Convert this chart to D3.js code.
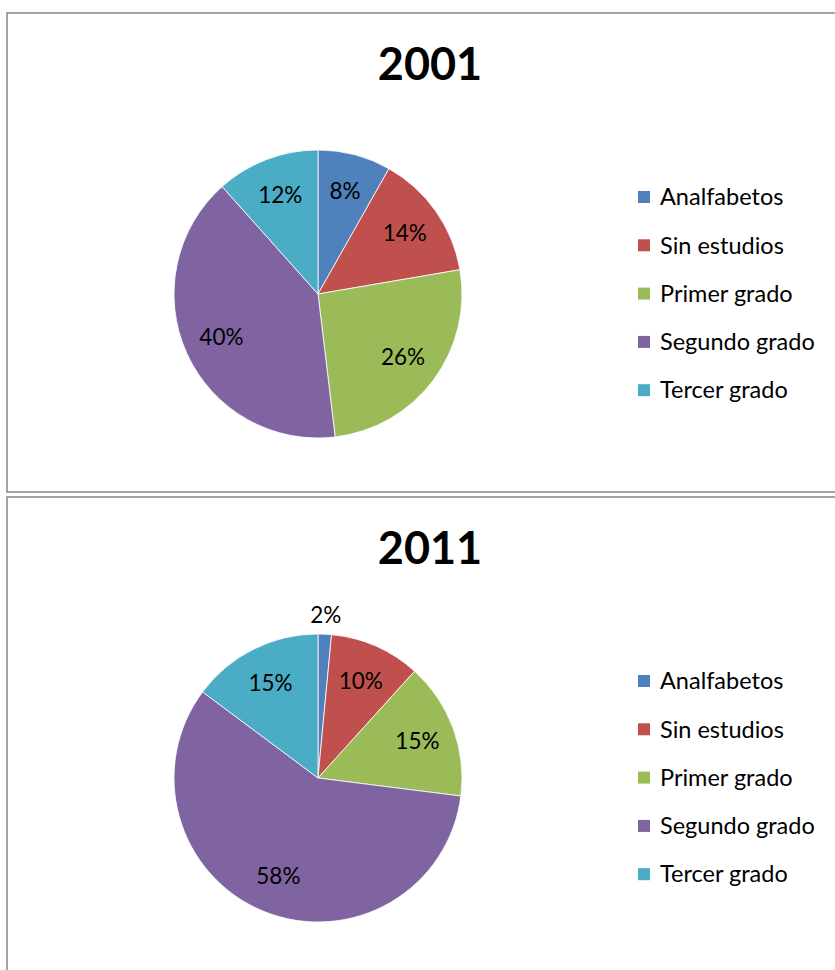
<!DOCTYPE html>
<html><head><meta charset="utf-8">
<script src="https://cdn.jsdelivr.net/npm/d3@7"></script>
<style>body{margin:0;background:#fff;}svg{display:block;}</style>
</head><body>
<svg id="c" width="835" height="970"></svg>
<script>
const categories = ["Analfabetos","Sin estudios","Primer grado","Segundo grado","Tercer grado"];
const colors = ["#4F81BD","#C0504D","#9BBB59","#8064A2","#4BACC6"];
const titles = ["2001","2011"];
const values2001 = [8.2, 14.1, 25.8, 40.3, 11.6];
const values2011 = [1.5, 10.2, 15.3, 58.2, 14.8];
const series = [values2001, values2011];

const svg = d3.select("#c");
const font = "Lato, 'Open Sans', sans-serif";
const panelTops = [13, 497];
const panelBottoms = [492, 1000];

panelTops.forEach((top, i) => {
  const g = svg.append("g");
  g.append("rect").attr("x", 7).attr("y", top).attr("width", 900)
    .attr("height", panelBottoms[i] - top)
    .attr("fill", "#fff").attr("stroke", "#868686").attr("stroke-width", 1.5);

  g.append("text").attr("x", 430).attr("y", top + 67)
    .attr("text-anchor", "middle").attr("font-family", font)
    .attr("font-weight", "bold").attr("font-size", 45).attr("fill", "#000")
    .text(titles[i]);

  const cx = 318, cy = top + 281, R = 144;
  const pie = d3.pie().sort(null).value(d => d);
  const arcs = pie(series[i]);
  const arc = d3.arc().innerRadius(0).outerRadius(R);
  const pg = g.append("g").attr("transform", `translate(${cx},${cy})`);
  pg.selectAll("path").data(arcs).join("path")
    .attr("d", arc).attr("fill", (d, j) => colors[j])
    .attr("stroke", "#fff").attr("stroke-width", 0.8);

  const labelArc = d3.arc().innerRadius(106).outerRadius(106);
  const outArc = d3.arc().innerRadius(163).outerRadius(163);
  pg.selectAll("text").data(arcs).join("text")
    .attr("transform", d => {
      const small = (d.endAngle - d.startAngle) < 0.15;
      const p = (small ? outArc : labelArc).centroid(d);
      return `translate(${p[0]},${p[1]})`;
    })
    .attr("text-anchor", "middle").attr("dy", "0.35em")
    .attr("font-family", font).attr("font-size", 22.5).attr("fill", "#000")
    .text(d => Math.round(d.data) + "%");

  const lg = g.append("g");
  categories.forEach((c, j) => {
    const y = top + 184 + j * 48.3;
    lg.append("rect").attr("x", 638).attr("y", y - 6).attr("width", 12).attr("height", 12)
      .attr("fill", colors[j]);
    lg.append("text").attr("x", 660).attr("y", y).attr("dy", "0.35em")
      .attr("font-family", font).attr("font-size", 23.5).attr("fill", "#000").text(c);
  });
});
</script>
</body></html>
